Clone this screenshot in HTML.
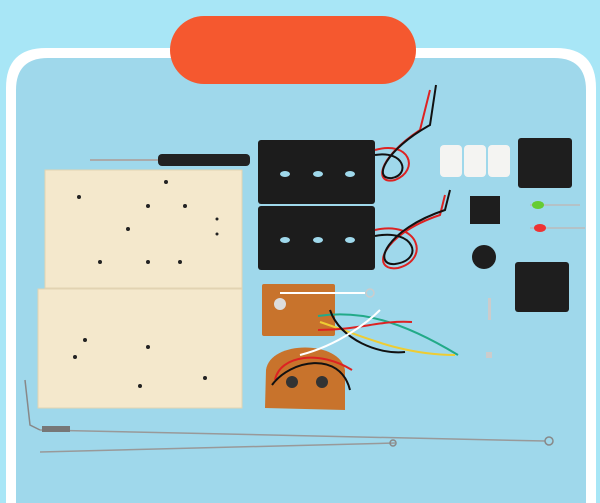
<!DOCTYPE html>
<html><head><style>html,body{margin:0;padding:0;width:600px;height:503px;overflow:hidden;background:#a8e6f6}svg{display:block}</style></head>
<body>
<svg width="600" height="503" viewBox="0 0 600 503" xmlns="http://www.w3.org/2000/svg">
<rect width="600" height="503" fill="#a8e6f6"/>
<path d="M6 503 L6 88 Q6 48 46 48 L556 48 Q596 48 596 88 L596 503 Z" fill="#ffffff"/>
<path d="M16 503 L16 90 Q16 58 48 58 L554 58 Q586 58 586 90 L586 503 Z" fill="#9fd8eb"/>
<rect x="170" y="16" width="246" height="68" rx="34" fill="#f5582f"/>
<rect x="45" y="170" width="197" height="118" fill="#f4e8cc" stroke="#e2d3b2"/>
<rect x="38" y="289" width="204" height="119" fill="#f4e8cc" stroke="#e2d3b2"/>
<g fill="#222">
<circle cx="166" cy="182" r="2"/><circle cx="79" cy="197" r="2"/><circle cx="148" cy="206" r="2"/><circle cx="185" cy="206" r="2"/><circle cx="128" cy="229" r="2"/><circle cx="217" cy="219" r="1.5"/><circle cx="217" cy="234" r="1.5"/><circle cx="100" cy="262" r="2"/><circle cx="148" cy="262" r="2"/><circle cx="180" cy="262" r="2"/>
<circle cx="85" cy="340" r="2"/><circle cx="148" cy="347" r="2"/><circle cx="75" cy="357" r="2"/><circle cx="205" cy="378" r="2"/><circle cx="140" cy="386" r="2"/>
</g>
<line x1="90" y1="160" x2="160" y2="160" stroke="#aaa" stroke-width="2"/>
<rect x="158" y="154" width="92" height="12" rx="4" fill="#222"/>
<rect x="258" y="140" width="117" height="64" rx="3" fill="#1c1c1c"/>
<rect x="258" y="206" width="117" height="64" rx="3" fill="#1c1c1c"/>
<g fill="#9fd8eb"><ellipse cx="285" cy="174" rx="5" ry="3"/><ellipse cx="318" cy="174" rx="5" ry="3"/><ellipse cx="350" cy="174" rx="5" ry="3"/><ellipse cx="285" cy="240" rx="5" ry="3"/><ellipse cx="318" cy="240" rx="5" ry="3"/><ellipse cx="350" cy="240" rx="5" ry="3"/></g>
<path d="M375 150 C410 140 420 170 395 180 C375 185 375 160 420 130 L430 90" stroke="#d22" stroke-width="2" fill="none"/>
<path d="M375 155 C405 150 410 175 392 178 C372 180 385 150 430 125 L436 85" stroke="#111" stroke-width="2" fill="none"/>
<path d="M375 230 C420 220 430 260 398 268 C370 272 380 235 440 215 L445 195" stroke="#d22" stroke-width="2" fill="none"/>
<path d="M375 236 C415 228 425 260 395 264 C372 266 385 230 445 210 L450 190" stroke="#111" stroke-width="2" fill="none"/>
<rect x="440" y="145" width="22" height="32" rx="4" fill="#f4f4f2"/>
<rect x="464" y="145" width="22" height="32" rx="4" fill="#f4f4f2"/>
<rect x="488" y="145" width="22" height="32" rx="4" fill="#f4f4f2"/>
<rect x="518" y="138" width="54" height="50" rx="3" fill="#1e1e1e"/>
<rect x="515" y="262" width="54" height="50" rx="3" fill="#1e1e1e"/>
<rect x="470" y="196" width="30" height="28" fill="#1e1e1e"/>
<circle cx="484" cy="257" r="12" fill="#1e1e1e"/>
<line x1="530" y1="205" x2="580" y2="205" stroke="#bbb" stroke-width="1.5"/><ellipse cx="538" cy="205" rx="6" ry="4" fill="#6c3"/>
<line x1="530" y1="228" x2="585" y2="228" stroke="#bbb" stroke-width="1.5"/><ellipse cx="540" cy="228" rx="6" ry="4" fill="#e33"/>
<rect x="488" y="298" width="3" height="22" fill="#ccc"/>
<rect x="486" y="352" width="6" height="6" fill="#ccc"/>
<rect x="262" y="284" width="73" height="52" rx="2" fill="#c8732c"/>
<path d="M265 408 L266 370 C270 340 340 340 345 370 L345 410 Z" fill="#c8732c"/>
<circle cx="280" cy="304" r="6" fill="#ddd"/>
<circle cx="292" cy="382" r="6" fill="#333"/><circle cx="322" cy="382" r="6" fill="#333"/>
<path d="M280 293 L365 293" stroke="#fff" stroke-width="2" fill="none"/><circle cx="370" cy="293" r="4" fill="none" stroke="#ccc" stroke-width="1.5"/>
<path d="M318 316 C360 310 400 320 458 355" stroke="#2a8" stroke-width="2" fill="none"/>
<path d="M320 322 C360 335 400 355 455 355" stroke="#ec3" stroke-width="2" fill="none"/>
<path d="M318 330 C360 330 380 320 412 322" stroke="#d22" stroke-width="2" fill="none"/>
<path d="M330 310 C340 340 380 355 405 352" stroke="#111" stroke-width="2" fill="none"/>
<path d="M300 355 C340 345 370 320 380 310" stroke="#fff" stroke-width="2" fill="none"/>
<path d="M275 380 C280 355 320 350 352 370" stroke="#d22" stroke-width="2" fill="none"/>
<path d="M272 385 C290 360 340 350 350 390" stroke="#111" stroke-width="2" fill="none"/>
<path d="M25 380 L30 425 L40 430" stroke="#888" stroke-width="1.5" fill="none"/>
<line x1="40" y1="430" x2="545" y2="441" stroke="#999" stroke-width="1.5"/>
<line x1="40" y1="452" x2="395" y2="443" stroke="#999" stroke-width="1.5"/>
<circle cx="549" cy="441" r="4" fill="none" stroke="#888" stroke-width="1.5"/>
<circle cx="393" cy="443" r="3" fill="none" stroke="#888" stroke-width="1.5"/>
<rect x="42" y="426" width="28" height="6" fill="#777"/>
</svg>
</body></html>
